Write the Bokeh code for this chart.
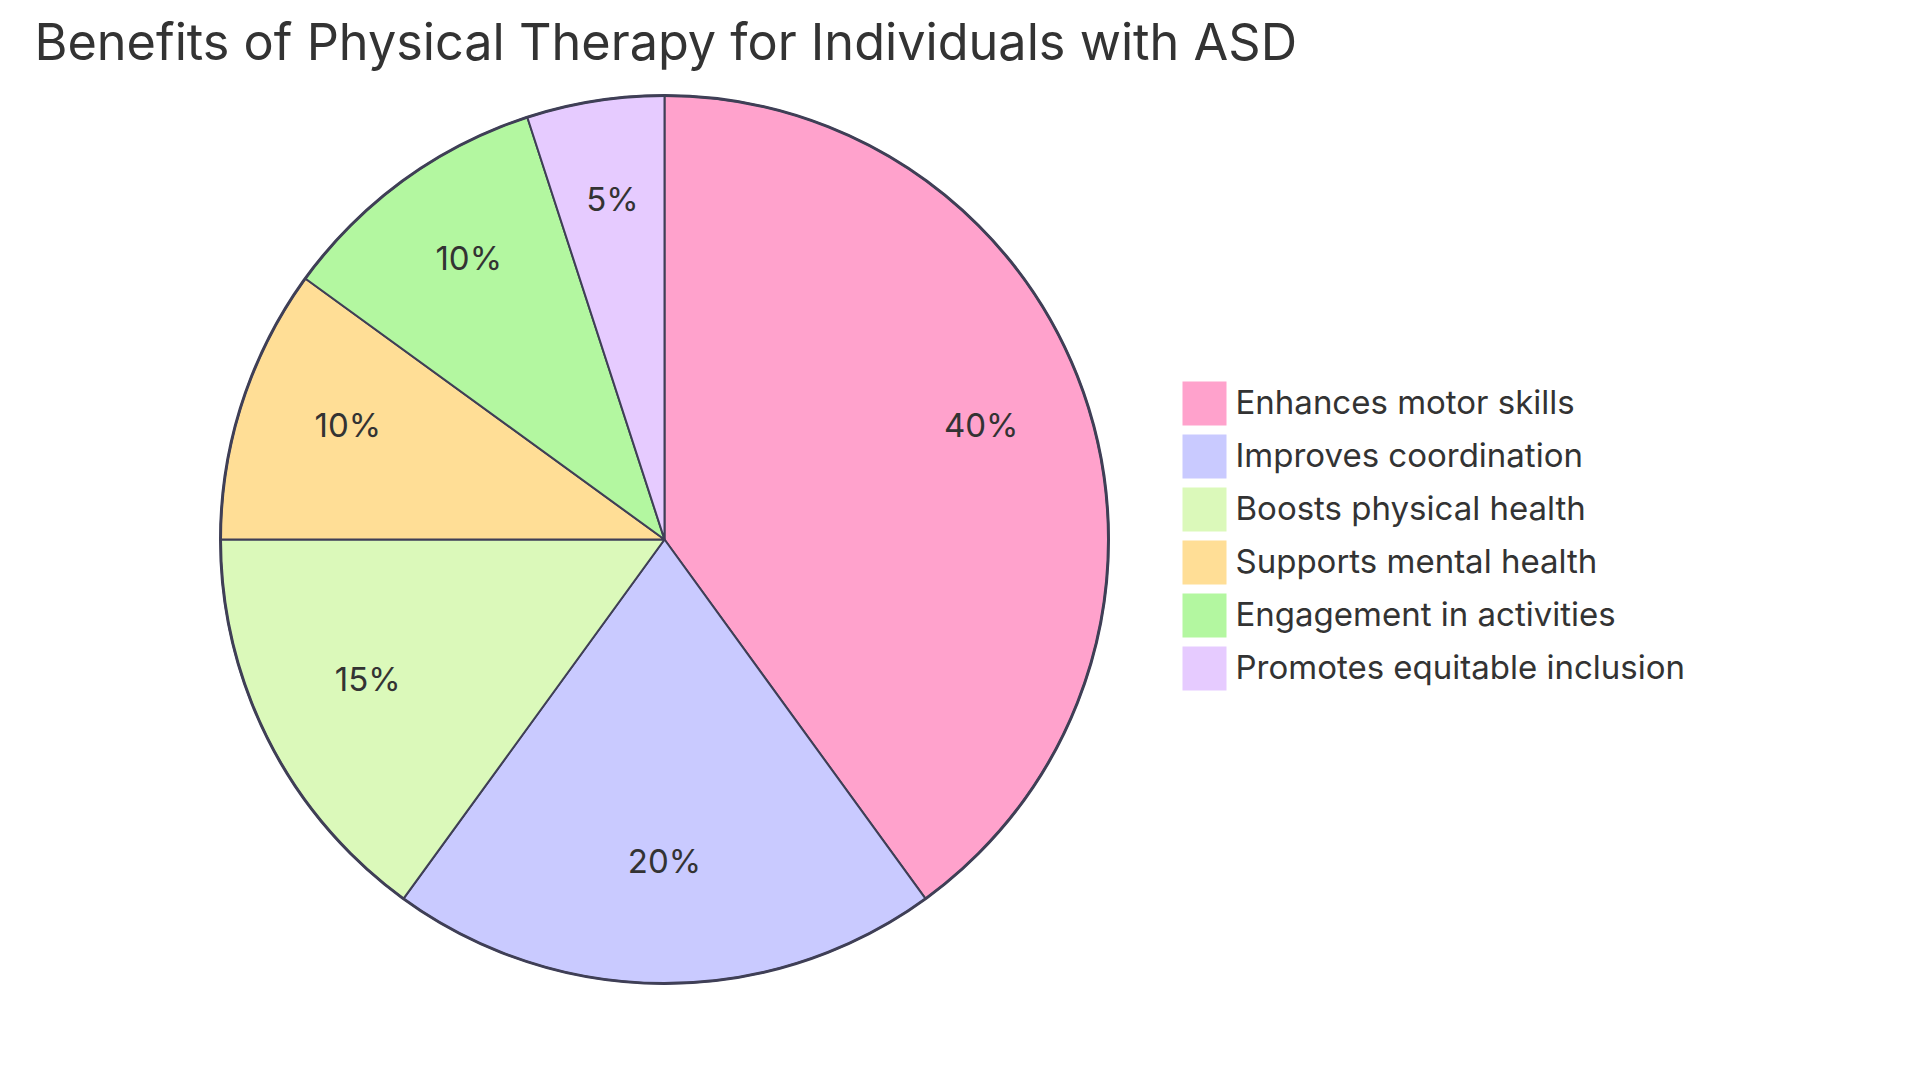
import math
from bokeh.plotting import figure
from bokeh.models import Range1d, ColumnDataSource
from bokeh.core.properties import value
from bokeh.embed import file_html
from bokeh.resources import INLINE

# ---- data ----
categories = ["Enhances motor skills", "Improves coordination", "Boosts physical health",
              "Supports mental health", "Engagement in activities", "Promotes equitable inclusion"]
values = [40, 20, 15, 10, 10, 5]
colors = ["#FFA2CC", "#C9CAFF", "#DBF9BA", "#FFDE96", "#B3F7A0", "#E6CBFF"]
title_text = "Benefits of Physical Therapy for Individuals with ASD"

W, H = 1900, 1060
FONT = "Inter"

def px(x):  # page x -> data x
    return x

def py(y):  # page y -> data y
    return H - y

p = figure(width=W, height=H, output_backend="svg", toolbar_location=None,
           x_range=Range1d(0, W), y_range=Range1d(0, H), min_border=0)
p.axis.visible = False
p.grid.visible = False
p.outline_line_color = None
p.background_fill_color = "white"

cx, cy, R = px(664), py(539), 444
total = float(sum(values))
starts, ends, mids = [], [], []
acc = 0.0
for v in values:
    a0 = math.pi / 2 - 2 * math.pi * acc / total
    acc += v
    a1 = math.pi / 2 - 2 * math.pi * acc / total
    starts.append(a0)
    ends.append(a1)
    mids.append((a0 + a1) / 2)

src = ColumnDataSource(dict(start=starts, end=ends, color=colors, cat=categories))
p.wedge(x=cx, y=cy, radius=R, start_angle="start", end_angle="end", direction="clock",
        fill_color="color", line_color="#3F3F56", line_width=2, source=src)
p.circle(x=[cx], y=[cy], radius=R, fill_color=None, line_color="#3F3F56", line_width=3)

labels = [f"{round(100 * v / total)}%" for v in values]
lx = [cx + 0.75 * R * math.cos(m) for m in mids]
ly = [cy + 0.75 * R * math.sin(m) + 12 for m in mids]
p.text(x=lx, y=ly, text=labels, text_align="center", text_baseline="middle",
       text_font=value(FONT), text_font_size="33px", text_color="#333333")

# legend
row0, step = 403, 53
ys = [py(row0 + i * step) for i in range(len(categories))]
p.rect(x=[px(1204)] * len(categories), y=ys, width=44, height=44, fill_color=colors, line_color=None)
p.text(x=[px(1235)] * len(categories), y=[y + 2 for y in ys], text=categories, text_align="left",
       text_baseline="middle", text_font=value(FONT), text_font_size="33px", text_color="#333333")

# title
p.text(x=[px(34)], y=[py(41)], text=[title_text], text_align="left", text_baseline="middle",
       text_font=value(FONT), text_font_size="50.4px", text_color="#333333")

open("out.html", "w").write(file_html(p, INLINE))
